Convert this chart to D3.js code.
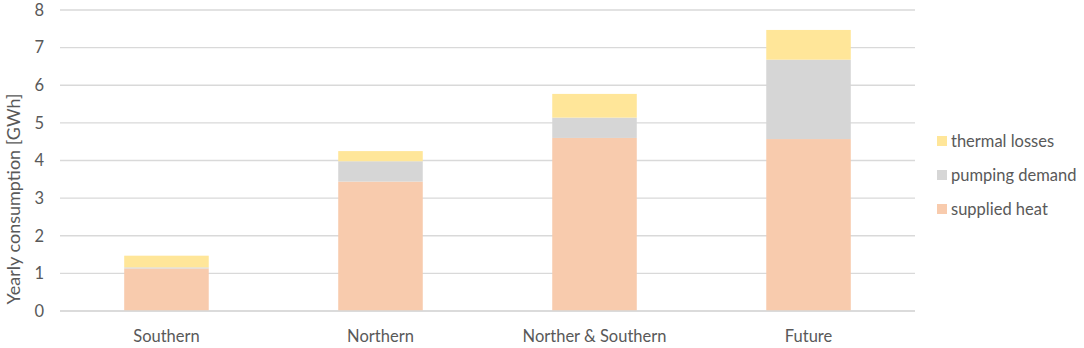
<!DOCTYPE html>
<html>
<head>
<meta charset="utf-8">
<script src="https://cdn.jsdelivr.net/npm/d3@7"></script>
<style>
  body { margin: 0; background: #fff; }
  text { font-family: Lato, "Open Sans", sans-serif; fill: #595959; }
</style>
</head>
<body>
<svg id="chart" width="1084" height="348"></svg>
<script>
// data
var categories = ["Southern", "Northern", "Norther & Southern", "Future"];
var seriesNames = ["supplied heat", "pumping demand", "thermal losses"];
var suppliedHeat = [1.13, 3.44, 4.60, 4.57];
var pumpingDemand = [0.03, 0.54, 0.54, 2.11];
var thermalLosses = [0.31, 0.27, 0.63, 0.79];
var yTicks = [0, 1, 2, 3, 4, 5, 6, 7, 8];
var colors = ["#F8CBAD", "#D6D6D6", "#FFE699"];

var svg = d3.select("#chart"),
    MARGINS = { top: 10, right: 169, bottom: 37, left: 60 },
    WIDTH = 1084, HEIGHT = 348;

var rows = categories.map(function (c, i) {
  return { cat: c, "supplied heat": suppliedHeat[i], "pumping demand": pumpingDemand[i], "thermal losses": thermalLosses[i] };
});
var stacked = d3.stack().keys(seriesNames)(rows);

var xScale = d3.scaleBand().domain(categories)
      .range([MARGINS.left, WIDTH - MARGINS.right]).paddingInner(0.605).paddingOuter(0.3),
    yScale = d3.scaleLinear().domain([0, 8]).range([HEIGHT - MARGINS.bottom, MARGINS.top]);

// gridlines
svg.append("g").selectAll("line").data(yTicks).join("line")
    .attr("x1", MARGINS.left).attr("x2", WIDTH - MARGINS.right)
    .attr("y1", function (d) { return yScale(d); })
    .attr("y2", function (d) { return yScale(d); })
    .attr("stroke", "#D9D9D9").attr("stroke-width", 1.3);

// bars
svg.append("g").selectAll("g").data(stacked).join("g")
    .attr("fill", function (d, i) { return colors[i]; })
  .selectAll("rect").data(function (d) { return d; }).join("rect")
    .attr("x", function (d) { return xScale(d.data.cat); })
    .attr("width", xScale.bandwidth())
    .attr("y", function (d) { return yScale(d[1]); })
    .attr("height", function (d) { return yScale(d[0]) - yScale(d[1]); });

// y axis labels
var yAxis = d3.axisLeft(yScale).tickValues(yTicks).tickSize(0).tickPadding(16);
var gy = svg.append("g").attr("transform", "translate(" + MARGINS.left + ",0)").call(yAxis);
gy.select(".domain").remove();
gy.selectAll("text").style("font-size", "16.5px").attr("fill", "#595959");

// x axis labels
var xAxis = d3.axisBottom(xScale).tickSize(0).tickPadding(19);
var gx = svg.append("g").attr("transform", "translate(0," + (HEIGHT - MARGINS.bottom) + ")").call(xAxis);
gx.select(".domain").attr("stroke", "#D9D9D9").attr("stroke-width", 1.3)
    .attr("d", "M" + MARGINS.left + ",0H" + (WIDTH - MARGINS.right));
gx.selectAll("text").style("font-size", "16.5px").attr("fill", "#595959");

// axis title
svg.append("text")
    .attr("transform", "translate(20," + 199 + ") rotate(-90)")
    .attr("text-anchor", "middle")
    .style("font-size", "18px")
    .text("Yearly consumption [GWh]");

// legend, top to bottom in reverse stack order
var legendItems = seriesNames.slice().reverse();
var legend = svg.append("g").selectAll("g").data(legendItems).join("g")
    .attr("transform", function (d, i) { return "translate(937," + (141 + i * 34) + ")"; });
legend.append("rect").attr("x", 0).attr("y", -5).attr("width", 10).attr("height", 10)
    .attr("fill", function (d) { return colors[seriesNames.indexOf(d)]; });
legend.append("text").attr("x", 14).attr("dy", "0.35em")
    .style("font-size", "16.5px")
    .text(function (d) { return d; });
</script>
</body>
</html>
